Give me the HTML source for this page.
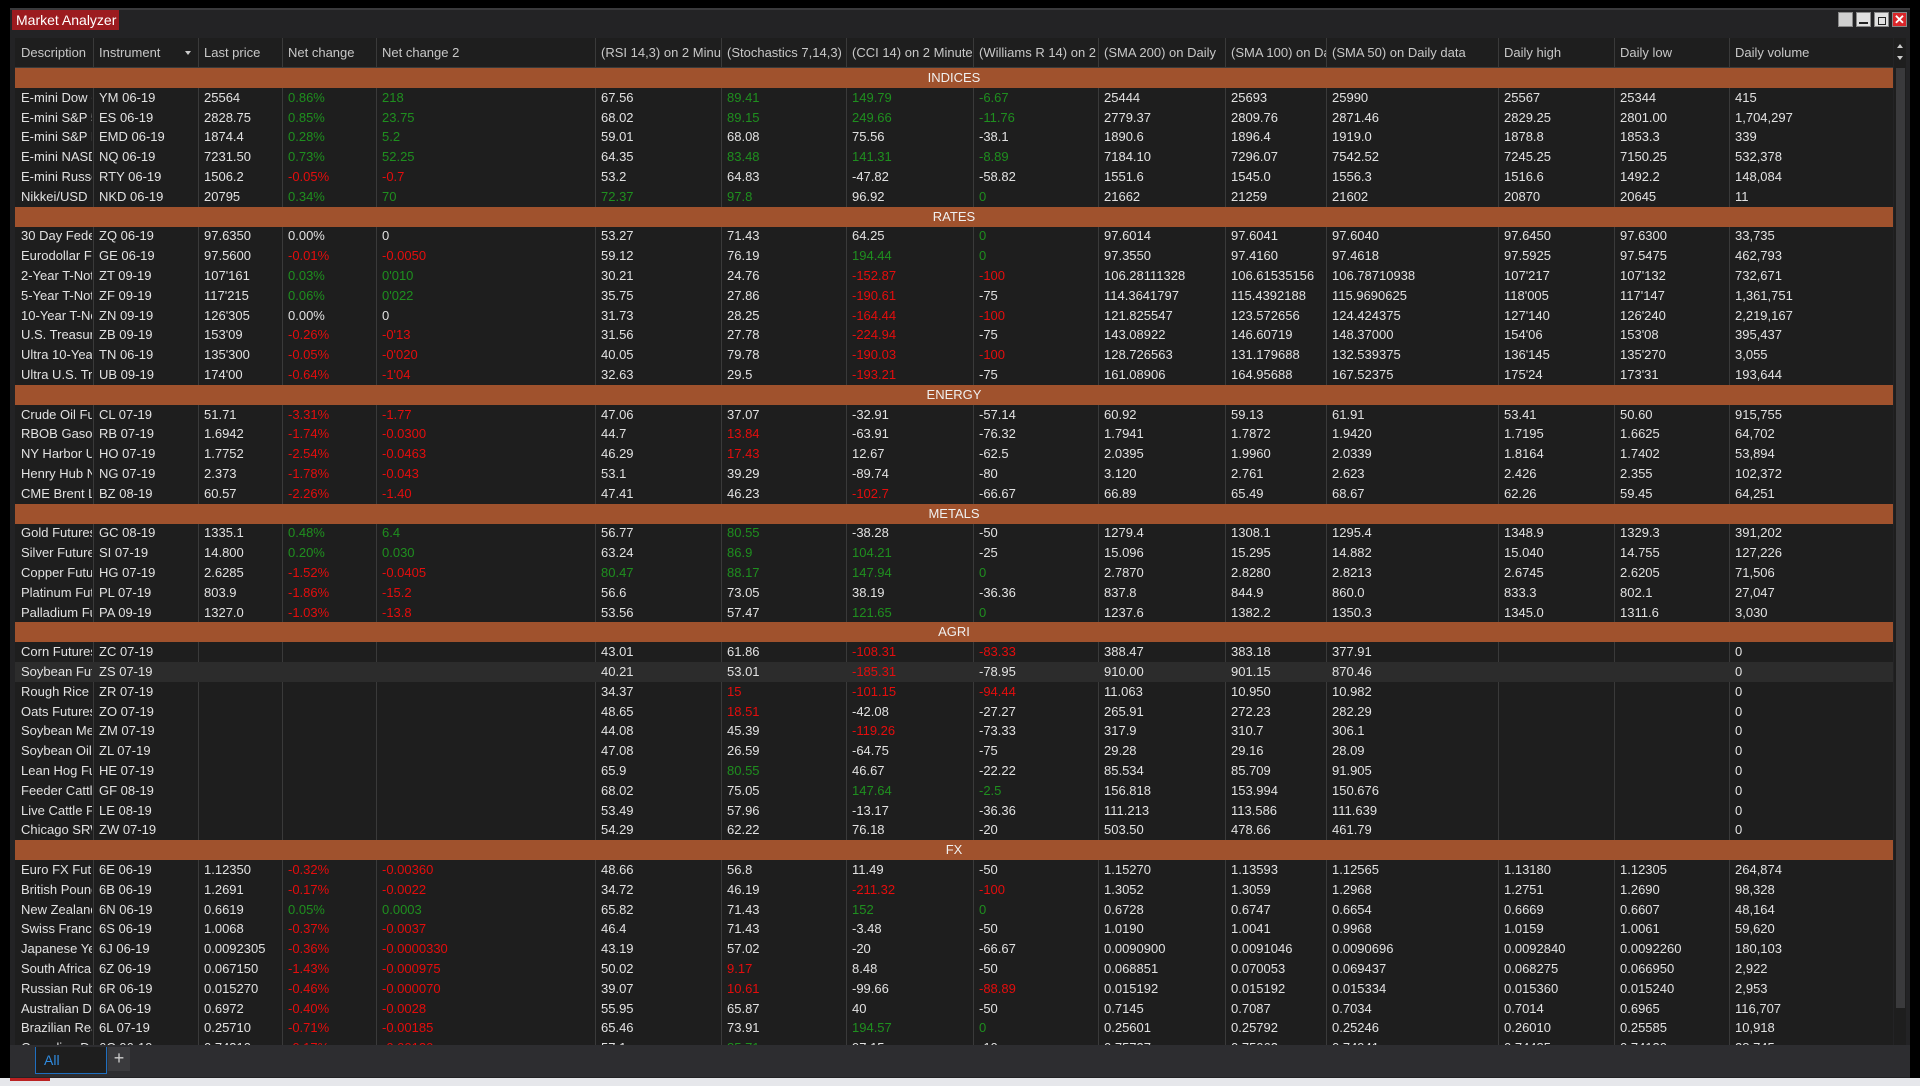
<!DOCTYPE html>
<html><head><meta charset="utf-8"><style>
html,body{margin:0;padding:0;width:1920px;height:1086px;background:#000;overflow:hidden;font-family:"Liberation Sans",sans-serif;}
#win{position:absolute;left:10px;top:8px;width:1900px;height:1070px;background:#232325;border-top:2px solid #3a3a3c;}
#title{position:absolute;left:12px;top:10px;width:107px;height:20px;background:#9c1b1f;color:#fff;font-size:14px;line-height:20px;padding-left:4px;box-sizing:border-box;white-space:nowrap;overflow:hidden;}
.wbtn{position:absolute;top:12px;width:15px;height:15px;background:#d8d8d8;box-sizing:border-box;border:1px solid #888;}
#grid{position:absolute;left:15px;top:38px;width:1878px;height:1007px;background:#1e1e1e;overflow:hidden;}
.hdr{position:absolute;top:0;height:29px;line-height:30px;font-size:13px;color:#c8c8c8;white-space:nowrap;overflow:hidden;box-sizing:border-box;padding-left:6px;}
.sep{position:absolute;top:0;width:1px;height:1007px;background:#3a3a3a;}
.row{position:absolute;left:0;width:1878px;height:20px;}
.cell{position:absolute;top:0;height:20px;line-height:20px;font-size:13px;color:#e2e2e2;white-space:nowrap;overflow:hidden;box-sizing:border-box;padding-left:6px;}
.grp{position:absolute;left:0;width:1878px;height:20px;background:#a0522d;color:#f0f0f0;font-size:13px;line-height:20px;text-align:center;}
.g{color:#1f8f1f}.r{color:#e40d0d}
#sb{position:absolute;left:1894px;top:38px;width:12px;height:1007px;background:#1e1e1e;}
#tabbar{position:absolute;left:10px;top:1045px;width:1900px;height:32px;background:#2d2d30;}
#bottom{position:absolute;left:0;top:1078px;width:1920px;height:8px;background:#e6e7eb;}
</style></head><body>
<div id="win"></div>
<div id="title">Market Analyzer</div>
<div class="wbtn" style="left:1838px;background:#cfcfcf"></div>
<div class="wbtn" style="left:1856px;background:#e0e0e0"><div style="position:absolute;left:2px;top:9px;width:9px;height:2px;background:#222"></div></div>
<div class="wbtn" style="left:1874px;background:#e0e0e0"><div style="position:absolute;left:3px;top:4px;width:6px;height:6px;border:1px solid #222"></div></div>
<div class="wbtn" style="left:1892px;background:#d9262a;color:#fff;font-size:13px;line-height:13px;text-align:center;font-weight:bold">✕</div>
<div id="grid"></div>
<div id="sb">
<div style="position:absolute;left:3px;top:6px;width:0;height:0;border-left:3px solid transparent;border-right:3px solid transparent;border-bottom:4px solid #ccc"></div>
<div style="position:absolute;left:3px;top:18px;width:0;height:0;border-left:3px solid transparent;border-right:3px solid transparent;border-top:4px solid #ccc"></div>
<div style="position:absolute;left:2px;top:30px;width:9px;height:940px;background:#3a3a3c"></div>
</div>
<div id="tabbar">
<div style="position:absolute;left:25px;top:2px;width:72px;height:27px;background:#1e1e1e;border:1px solid #1f6fc0;border-top:none;color:#2f8be0;font-size:14px;line-height:26px;padding-left:8px;box-sizing:border-box">All</div>
<div style="position:absolute;left:98px;top:2px;width:22px;height:24px;background:#3a3a3d;color:#ccc;font-size:18px;line-height:22px;text-align:center">+</div>
</div>
<div id="bottom"><div style="position:absolute;left:10px;top:0;width:40px;height:3px;background:#b22"></div></div>
<script>
const headers=["Description","Instrument","Last price","Net change","Net change 2","(RSI 14,3) on 2 Minute","(Stochastics 7,14,3) on 2","(CCI 14) on 2 Minute","(Williams R 14) on 2 Minute","(SMA 200) on Daily","(SMA 100) on Daily","(SMA 50) on Daily data","Daily high","Daily low","Daily volume"];
const groups=["INDICES","RATES","ENERGY","METALS","AGRI","FX"];
const indices=[
["E-mini Dow ($5)","YM 06-19","25564","g0.86%","g218","67.56","g89.41","g149.79","g-6.67","25444","25693","25990","25567","25344","415"],
["E-mini S&P 500","ES 06-19","2828.75","g0.85%","g23.75","68.02","g89.15","g249.66","g-11.76","2779.37","2809.76","2871.46","2829.25","2801.00","1,704,297"],
["E-mini S&P MidCap","EMD 06-19","1874.4","g0.28%","g5.2","59.01","68.08","75.56","-38.1","1890.6","1896.4","1919.0","1878.8","1853.3","339"],
["E-mini NASDAQ","NQ 06-19","7231.50","g0.73%","g52.25","64.35","g83.48","g141.31","g-8.89","7184.10","7296.07","7542.52","7245.25","7150.25","532,378"],
["E-mini Russell","RTY 06-19","1506.2","r-0.05%","r-0.7","53.2","64.83","-47.82","-58.82","1551.6","1545.0","1556.3","1516.6","1492.2","148,084"],
["Nikkei/USD","NKD 06-19","20795","g0.34%","g70","g72.37","g97.8","96.92","g0","21662","21259","21602","20870","20645","11"]];
const rates=[
["30 Day Federal","ZQ 06-19","97.6350","0.00%","0","53.27","71.43","64.25","g0","97.6014","97.6041","97.6040","97.6450","97.6300","33,735"],
["Eurodollar Futures","GE 06-19","97.5600","r-0.01%","r-0.0050","59.12","76.19","g194.44","g0","97.3550","97.4160","97.4618","97.5925","97.5475","462,793"],
["2-Year T-Note","ZT 09-19","107'161","g0.03%","g0'010","30.21","24.76","r-152.87","r-100","106.28111328","106.61535156","106.78710938","107'217","107'132","732,671"],
["5-Year T-Note","ZF 09-19","117'215","g0.06%","g0'022","35.75","27.86","r-190.61","-75","114.3641797","115.4392188","115.9690625","118'005","117'147","1,361,751"],
["10-Year T-Note","ZN 09-19","126'305","0.00%","0","31.73","28.25","r-164.44","r-100","121.825547","123.572656","124.424375","127'140","126'240","2,219,167"],
["U.S. Treasury Bond","ZB 09-19","153'09","r-0.26%","r-0'13","31.56","27.78","r-224.94","-75","143.08922","146.60719","148.37000","154'06","153'08","395,437"],
["Ultra 10-Year","TN 06-19","135'300","r-0.05%","r-0'020","40.05","79.78","r-190.03","r-100","128.726563","131.179688","132.539375","136'145","135'270","3,055"],
["Ultra U.S. Treasury","UB 09-19","174'00","r-0.64%","r-1'04","32.63","29.5","r-193.21","-75","161.08906","164.95688","167.52375","175'24","173'31","193,644"]];
const energy=[
["Crude Oil Futures","CL 07-19","51.71","r-3.31%","r-1.77","47.06","37.07","-32.91","-57.14","60.92","59.13","61.91","53.41","50.60","915,755"],
["RBOB Gasoline","RB 07-19","1.6942","r-1.74%","r-0.0300","44.7","r13.84","-63.91","-76.32","1.7941","1.7872","1.9420","1.7195","1.6625","64,702"],
["NY Harbor ULSD","HO 07-19","1.7752","r-2.54%","r-0.0463","46.29","r17.43","12.67","-62.5","2.0395","1.9960","2.0339","1.8164","1.7402","53,894"],
["Henry Hub Natural Gas","NG 07-19","2.373","r-1.78%","r-0.043","53.1","39.29","-89.74","-80","3.120","2.761","2.623","2.426","2.355","102,372"],
["CME Brent Last Day","BZ 08-19","60.57","r-2.26%","r-1.40","47.41","46.23","r-102.7","-66.67","66.89","65.49","68.67","62.26","59.45","64,251"]];
const metals=[
["Gold Futures","GC 08-19","1335.1","g0.48%","g6.4","56.77","g80.55","-38.28","-50","1279.4","1308.1","1295.4","1348.9","1329.3","391,202"],
["Silver Futures","SI 07-19","14.800","g0.20%","g0.030","63.24","g86.9","g104.21","-25","15.096","15.295","14.882","15.040","14.755","127,226"],
["Copper Futures","HG 07-19","2.6285","r-1.52%","r-0.0405","g80.47","g88.17","g147.94","g0","2.7870","2.8280","2.8213","2.6745","2.6205","71,506"],
["Platinum Futures","PL 07-19","803.9","r-1.86%","r-15.2","56.6","73.05","38.19","-36.36","837.8","844.9","860.0","833.3","802.1","27,047"],
["Palladium Futures","PA 09-19","1327.0","r-1.03%","r-13.8","53.56","57.47","g121.65","g0","1237.6","1382.2","1350.3","1345.0","1311.6","3,030"]];
const agri=[
["Corn Futures","ZC 07-19","","","","43.01","61.86","r-108.31","r-83.33","388.47","383.18","377.91","","","0"],
["Soybean Futures","ZS 07-19","","","","40.21","53.01","r-185.31","-78.95","910.00","901.15","870.46","","","0"],
["Rough Rice","ZR 07-19","","","","34.37","r15","r-101.15","r-94.44","11.063","10.950","10.982","","","0"],
["Oats Futures","ZO 07-19","","","","48.65","r18.51","-42.08","-27.27","265.91","272.23","282.29","","","0"],
["Soybean Meal","ZM 07-19","","","","44.08","45.39","r-119.26","-73.33","317.9","310.7","306.1","","","0"],
["Soybean Oil","ZL 07-19","","","","47.08","26.59","-64.75","-75","29.28","29.16","28.09","","","0"],
["Lean Hog Futures","HE 07-19","","","","65.9","g80.55","46.67","-22.22","85.534","85.709","91.905","","","0"],
["Feeder Cattle","GF 08-19","","","","68.02","75.05","g147.64","g-2.5","156.818","153.994","150.676","","","0"],
["Live Cattle Futures","LE 08-19","","","","53.49","57.96","-13.17","-36.36","111.213","113.586","111.639","","","0"],
["Chicago SRW Wheat","ZW 07-19","","","","54.29","62.22","76.18","-20","503.50","478.66","461.79","","","0"]];
const fx=[
["Euro FX Futures","6E 06-19","1.12350","r-0.32%","r-0.00360","48.66","56.8","11.49","-50","1.15270","1.13593","1.12565","1.13180","1.12305","264,874"],
["British Pound","6B 06-19","1.2691","r-0.17%","r-0.0022","34.72","46.19","r-211.32","r-100","1.3052","1.3059","1.2968","1.2751","1.2690","98,328"],
["New Zealand Dollar","6N 06-19","0.6619","g0.05%","g0.0003","65.82","71.43","g152","g0","0.6728","0.6747","0.6654","0.6669","0.6607","48,164"],
["Swiss Franc","6S 06-19","1.0068","r-0.37%","r-0.0037","46.4","71.43","-3.48","-50","1.0190","1.0041","0.9968","1.0159","1.0061","59,620"],
["Japanese Yen","6J 06-19","0.0092305","r-0.36%","r-0.0000330","43.19","57.02","-20","-66.67","0.0090900","0.0091046","0.0090696","0.0092840","0.0092260","180,103"],
["South African Rand","6Z 06-19","0.067150","r-1.43%","r-0.000975","50.02","r9.17","8.48","-50","0.068851","0.070053","0.069437","0.068275","0.066950","2,922"],
["Russian Ruble","6R 06-19","0.015270","r-0.46%","r-0.000070","39.07","r10.61","-99.66","r-88.89","0.015192","0.015192","0.015334","0.015360","0.015240","2,953"],
["Australian Dollar","6A 06-19","0.6972","r-0.40%","r-0.0028","55.95","65.87","40","-50","0.7145","0.7087","0.7034","0.7014","0.6965","116,707"],
["Brazilian Real","6L 07-19","0.25710","r-0.71%","r-0.00185","65.46","73.91","g194.57","g0","0.25601","0.25792","0.25246","0.26010","0.25585","10,918"],
["Canadian Dollar","6C 06-19","0.74310","r-0.17%","r-0.00120","57.1","g85.71","97.15","-10","0.75737","0.75062","0.74941","0.74485","0.74130","28,745"]];
const sections=[indices,rates,energy,metals,agri,fx];
const colX=[0,78,183,267,361,580,706,831,958,1083,1210,1311,1483,1599,1714,1878];
const grid=document.getElementById('grid');
for(let i=0;i<headers.length;i++){
  const h=document.createElement('div');h.className='hdr';
  
  
  h.style.left=colX[i]+'px';h.style.width=(colX[i+1]-colX[i]-(i==1?16:0))+'px';
  h.textContent=headers[i];grid.appendChild(h);
}
const arrow=document.createElement('div');


arrow.style.cssText='position:absolute;left:'+(colX[2]-13)+'px;top:13px;width:0;height:0;border-left:3px solid transparent;border-right:3px solid transparent;border-top:4px solid #ccc';
grid.appendChild(arrow);
const hl=document.createElement('div');


hl.style.cssText='position:absolute;left:0;top:29px;width:1878px;height:1px;background:#3a3a3a';grid.appendChild(hl);
for(let i=1;i<colX.length-1;i++){
  const s=document.createElement('div');s.className='sep';
  
  
  s.style.left=colX[i]+'px';grid.appendChild(s);
}
const RH=19.8,T0=30;let idx=0;
sections.forEach((sec,si)=>{
  const g=document.createElement('div');g.className='grp';
  
  
  g.style.top=(T0+idx*RH)+'px';g.textContent=groups[si];grid.appendChild(g);idx++;
  sec.forEach(r=>{
    const row=document.createElement('div');row.className='row';
    
    
    row.style.top=(T0+idx*RH)+'px';
    if(r[1]==='ZS 07-19')row.style.background='#2c2c2c';
    r.forEach((v,ci)=>{
      const c=document.createElement('div');c.className='cell';
      
      
      let t=v;
      if(v[0]==='g'){c.classList.add('g');t=v.slice(1);}
      else if(v[0]==='r'){c.classList.add('r');t=v.slice(1);}
      c.style.left=colX[ci]+'px';c.style.width=(colX[ci+1]-colX[ci]-1)+'px';
      c.textContent=t;row.appendChild(c);
    });
    grid.appendChild(row);idx++;
  });
});
</script>
</body></html>
